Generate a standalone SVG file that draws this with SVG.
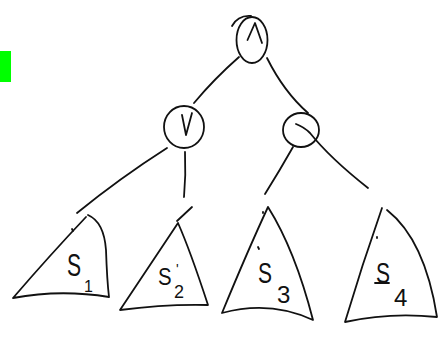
<svg xmlns="http://www.w3.org/2000/svg" width="446" height="338" viewBox="0 0 446 338">
<style>
.s{fill:none;stroke:#111;stroke-width:1.8;stroke-linecap:round;stroke-linejoin:round}
.t{font-family:"Liberation Sans",Arial,sans-serif;fill:#111}
</style>
<rect width="446" height="338" fill="#fff"/>
<rect x="0" y="51" width="11" height="31" fill="#00ff00"/>
<g id="connectors">
<path class="s" d="M239,57 Q214,79 194,103"/>
<path class="s" d="M267,58 Q284,92 308,113"/>
<path class="s" d="M296,124 Q304,127 310,133 Q330,158 368,188"/>
<path class="s" d="M167,148 Q120,178 77,213"/>
<path class="s" d="M185,152 Q186,175 184,197"/>
<path class="s" d="M293,147 Q280,170 265,194"/>
<path class="s" d="M192,207 L177,221"/>
</g>
<g id="root">
<ellipse class="s" cx="252" cy="40" rx="15.5" ry="23"/>
<path class="s" d="M232,26 Q238,15 251,16"/>
<path class="s" d="M247.5,40 L255,23 L262,43"/>
</g>
<g id="or">
<ellipse class="s" cx="184" cy="127" rx="20" ry="21"/>
<path class="s" d="M182,115 L186,135 L192,113"/>
</g>
<g id="n2">
<ellipse class="s" cx="301" cy="130" rx="18" ry="17"/>
</g>
<g id="s1">
<path class="s" d="M88,215 Q104,222 106,250 Q107,280 109,297 Q60,289 13,298 Q50,255 86,217"/>
<path class="s" d="M72,229 L73,231"/>
<text class="t" transform="translate(67,276) scale(0.66,1)" font-size="32">S</text>
<text class="t" x="84" y="292" font-size="16">1</text>
</g>
<g id="s2">
<path class="s" d="M178,223 Q190,250 208,305 Q165,304 120,310 Q150,265 178,223"/>
<text class="t" transform="translate(158,285) scale(0.85,1)" font-size="24">S</text>
<text class="t" x="176" y="274" font-size="14">'</text>
<text class="t" x="174" y="298" font-size="18">2</text>
</g>
<g id="s3">
<path class="s" d="M268,207 Q295,250 313,320 Q270,300 222,313 Q248,250 268,207"/>
<path class="s" d="M263,212 L263,213"/>
<path class="s" d="M258,247 L259,249"/>
<text class="t" transform="translate(258,283) scale(0.7,1)" font-size="30">S</text>
<text class="t" x="277" y="303" font-size="24">3</text>
</g>
<g id="s4">
<path class="s" d="M382,208 Q362,265 345,322 Q390,312 437,317 Q425,240 387,210"/>
<path class="s" d="M377,237 L377,238"/>
<text class="t" transform="translate(376,283) scale(0.7,1)" font-size="30">S</text>
<path class="s" d="M375,283 L389,283"/>
<text class="t" x="394" y="306" font-size="24">4</text>
</g>
</svg>
